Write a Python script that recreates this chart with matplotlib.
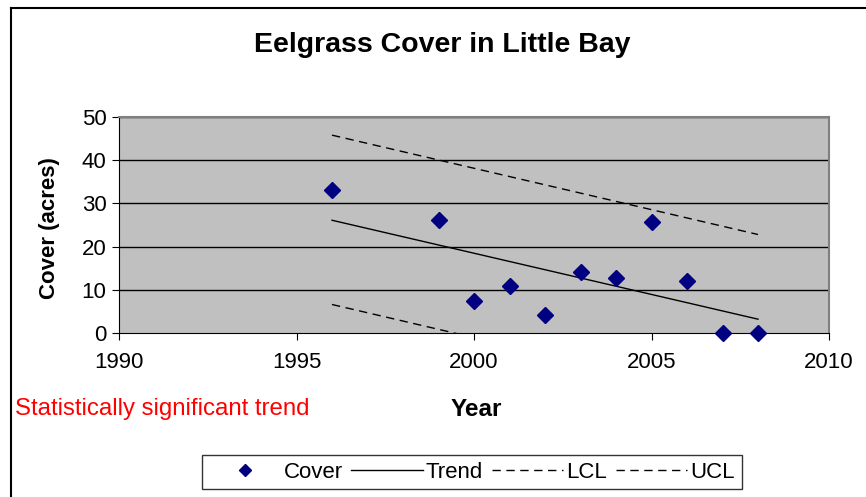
import numpy as np
import matplotlib
matplotlib.use("Agg")
from matplotlib import pyplot as plt
from matplotlib.lines import Line2D

plt.rcParams['font.family'] = ['Liberation Sans', 'DejaVu Sans']

# data
years = [1996, 1999, 2000, 2001, 2002, 2003, 2004, 2005, 2006, 2007, 2008]
cover = [33.0, 26.2, 7.5, 10.9, 4.2, 14.1, 12.8, 25.8, 12.0, 0.0, 0.0]

trend_years = [1996, 2008]
trend = [26.1, 3.2]
lcl = [6.6, -16.4]
ucl = [45.8, 22.8]

xticks = [1990, 1995, 2000, 2005, 2010]
yticks = [0, 10, 20, 30, 40, 50]

fig = plt.figure(figsize=(8.66, 4.97), dpi=100)
ax = fig.add_axes([119/866, 1-333/497, (829-119)/866, (333-117)/497])
ax.set_facecolor('#C0C0C0')

# gridlines
for y in yticks[1:]:
    ax.axhline(y, color='black', lw=1, zorder=1)

ax.plot(years, cover, linestyle='none', marker='D', ms=8, color='#000080',
        label='Cover', zorder=5, clip_on=False)
ax.plot(trend_years, trend, color='black', lw=1, label='Trend', zorder=3)
ax.plot(trend_years, lcl, color='black', lw=1, ls=(0, (6, 4)), label='LCL', zorder=3)
ax.plot(trend_years, ucl, color='black', lw=1, ls=(0, (6, 4)), label='UCL', zorder=3)

ax.set_xlim(1990, 2010)
ax.set_ylim(0, 50)
ax.set_xticks(xticks)
ax.set_yticks(yticks)
ax.tick_params(axis='both', labelsize=16, direction='out', length=5, color='black')
ax.tick_params(axis='x', pad=9)
ax.tick_params(axis='y', pad=4)

for s in ['top', 'right']:
    ax.spines[s].set_color('#808080')
    ax.spines[s].set_linewidth(1.5)
ax.spines['left'].set_color('black')
ax.spines['bottom'].set_color('black')

fig.text(442/866, 1-45/497, 'Eelgrass Cover in Little Bay', ha='center', va='center',
         fontsize=20.5, fontweight='bold')
fig.text(50/866, 1-228/497, 'Cover (acres)', ha='center', va='center', rotation=90,
         fontsize=16, fontweight='bold')
fig.text(476/866, 1-409/497, 'Year', ha='center', va='center', fontsize=17.5, fontweight='bold')
fig.text(15/866, 1-409/497, 'Statistically significant trend', ha='left', va='center',
         fontsize=17.3, color='red')

leg = fig.legend(loc='center', bbox_to_anchor=(472/866, 1-472/497), ncol=4, fontsize=16,
                 frameon=True, fancybox=False, edgecolor='black', handlelength=3.2,
                 handletextpad=0.15, columnspacing=0.4, borderpad=0.3, markerscale=0.8)
leg.get_frame().set_linewidth(1)

# outer chart border (left and top visible)
fig.add_artist(Line2D([11/866, 11/866], [0, 1-8/497], color='black', lw=1.5, transform=fig.transFigure))
fig.add_artist(Line2D([11/866, 1], [1-8/497, 1-8/497], color='black', lw=1.5, transform=fig.transFigure))

plt.savefig('out.png', dpi=100)
